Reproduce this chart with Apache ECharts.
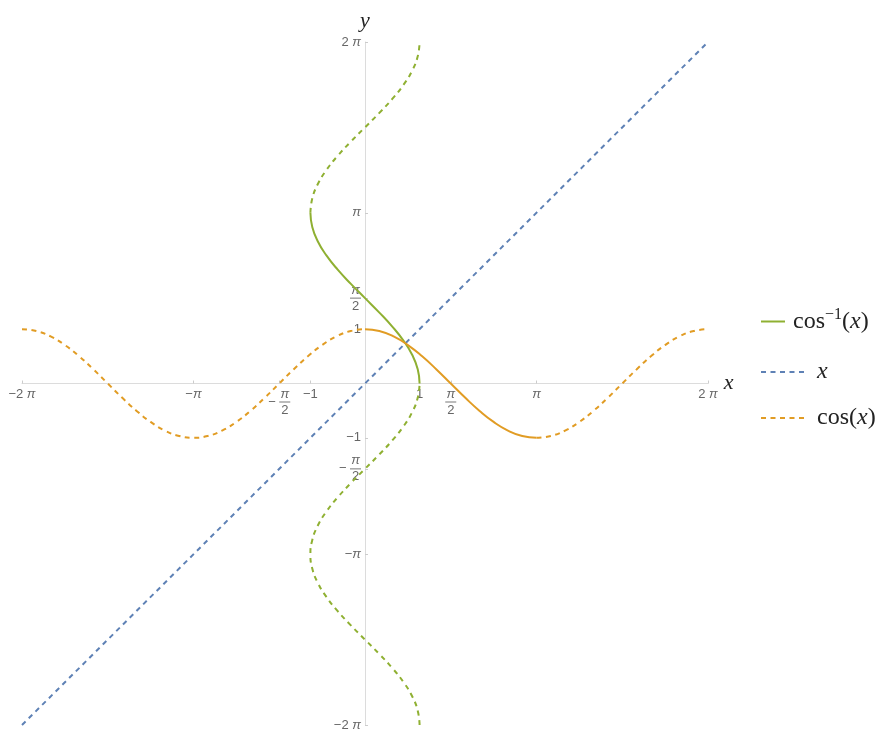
<!DOCTYPE html>
<html>
<head>
<meta charset="utf-8">
<script src="https://cdn.jsdelivr.net/npm/echarts@6/dist/echarts.min.js"></script>
<style>html,body{margin:0;padding:0;background:#fff}#c{width:878px;height:734px}</style>
</head>
<body>
<div id="c"></div>
<script>
// sample angles (radians), step pi/12 from -2pi to 2pi
var tValues = [-6.2832,-6.0214,-5.7596,-5.4978,-5.2360,-4.9742,-4.7124,-4.4506,-4.1888,-3.9270,-3.6652,-3.4034,
  -3.1416,-2.8798,-2.6180,-2.3562,-2.0944,-1.8326,-1.5708,-1.3090,-1.0472,-0.7854,-0.5236,-0.2618,
  0,0.2618,0.5236,0.7854,1.0472,1.3090,1.5708,1.8326,2.0944,2.3562,2.6180,2.8798,
  3.1416,3.4034,3.6652,3.9270,4.1888,4.4506,4.7124,4.9742,5.2360,5.4978,5.7596,6.0214,6.2832];
// cosine of each sample angle
var cosValues = [1,0.9659,0.8660,0.7071,0.5,0.2588,0,-0.2588,-0.5,-0.7071,-0.8660,-0.9659,
  -1,-0.9659,-0.8660,-0.7071,-0.5,-0.2588,0,0.2588,0.5,0.7071,0.8660,0.9659,
  1,0.9659,0.8660,0.7071,0.5,0.2588,0,-0.2588,-0.5,-0.7071,-0.8660,-0.9659,
  -1,-0.9659,-0.8660,-0.7071,-0.5,-0.2588,0,0.2588,0.5,0.7071,0.8660,0.9659,1];
// identity line endpoints
var identityX = [-6.2832, 6.2832];
var identityY = [-6.2832, 6.2832];
// principal-branch index range (t from 0 to pi)
var mainStart = 24, mainEnd = 36;

var xTickValues = [-2*Math.PI, -Math.PI, -Math.PI/2, -1, 1, Math.PI/2, Math.PI, 2*Math.PI];
var xTickLabels = ['−2 π', '−π', '−π/2', '−1', '1', 'π/2', 'π', '2 π'];
var yTickValues = [-2*Math.PI, -Math.PI, -Math.PI/2, -1, 1, Math.PI/2, Math.PI, 2*Math.PI];
var yTickLabels = ['−2 π', '−π', '−π/2', '−1', '1', 'π/2', 'π', '2 π'];

var GREEN = '#8fb032', BLUE = '#5e81b5', ORANGE = '#e19c24';
var DASH = [5, 4.5];

var GRID = {left: 22, right: 170, top: 42, bottom: 9};
var W = 878, H = 734;
var halfW = (W - GRID.left - GRID.right) / 2;
var halfH = (H - GRID.top - GRID.bottom) / 2;

function pairs(xs, ys, a, b) {
  var out = [];
  for (var i = a; i <= b; i++) out.push([xs[i], ys[i]]);
  return out;
}
var last = tValues.length - 1;

function fmtTick(values, labels) {
  return function (v) {
    for (var i = 0; i < values.length; i++) {
      if (Math.abs(values[i] - v) < 1e-6) {
        var s = labels[i];
        if (s === 'π/2') return '{n|π}\n{bar| }\n{d|2}';
        if (s === '−π/2') return '{p| }{n|π}\n{m|−}{bar| }\n{p| }{d|2}';
        var parts = s.split('π');
        var out = '';
        for (var k = 0; k < parts.length; k++) {
          if (parts[k]) out += '{t|' + parts[k] + '}';
          if (k < parts.length - 1) out += '{pi|π}';
        }
        return out;
      }
    }
    return '';
  };
}
var FS = 13;
var tickRich = {
  t: {fontSize: FS, color: '#666', fontFamily: 'Liberation Sans'},
  pi: {fontSize: FS, color: '#666', fontFamily: 'Liberation Sans', fontStyle: 'italic'},
  n: {fontSize: FS, color: '#666', width: 11, align: 'center', lineHeight: 13, fontFamily: 'Liberation Sans', fontStyle: 'italic'},
  d: {fontSize: FS, color: '#666', width: 11, align: 'center', lineHeight: 13, fontFamily: 'Liberation Sans'},
  p: {fontSize: FS, width: 11, lineHeight: 13},
  m: {fontSize: FS, color: '#666', width: 11, align: 'left', lineHeight: 3, fontFamily: 'Liberation Sans'},
  bar: {fontSize: 1, width: 11, height: 1, lineHeight: 3, backgroundColor: '#777'}
};

var legendRich = {
  a: {fontFamily: 'Liberation Serif', fontSize: 24, color: '#222'},
  i: {fontFamily: 'Liberation Serif', fontStyle: 'italic', fontSize: 24, color: '#222'},
  s: {fontFamily: 'Liberation Serif', fontSize: 16, color: '#222', padding: [0, 0, 13, 0]}
};
var legendText = {
  acos: '{a|cos}{s|−1}{a|(}{i|x}{a|)}',
  x: '{i|x}',
  cos: '{a|cos(}{i|x}{a|)}'
};

var chart = echarts.init(document.getElementById('c'));
chart.setOption({
  animation: false,
  grid: {left: GRID.left, right: GRID.right, top: GRID.top, bottom: GRID.bottom, containLabel: false, outerBoundsMode: 'none'},
  xAxis: {
    type: 'value', min: -2*Math.PI, max: 2*Math.PI, position: 'bottom', offset: -halfH,
    name: 'x', nameLocation: 'end', nameGap: 10,
    nameTextStyle: {fontFamily: 'Liberation Serif', fontStyle: 'italic', fontSize: 22, color: '#222', verticalAlign: 'middle'},
    axisLine: {onZero: false, lineStyle: {color: '#dcdcdc', width: 1}},
    axisTick: {show: true, length: 3, inside: true, customValues: xTickValues, lineStyle: {color: '#ccc'}},
    axisLabel: {customValues: xTickValues, formatter: fmtTick(xTickValues, xTickLabels), rich: tickRich, margin: 4, verticalAlign: 'top'},
    splitLine: {show: false}
  },
  yAxis: {
    type: 'value', min: -2*Math.PI, max: 2*Math.PI, position: 'left', offset: -halfW,
    name: 'y', nameLocation: 'end', nameGap: 10,
    nameTextStyle: {fontFamily: 'Liberation Serif', fontStyle: 'italic', fontSize: 22, color: '#222'},
    axisLine: {onZero: false, lineStyle: {color: '#dcdcdc', width: 1}},
    axisTick: {show: true, length: 3, inside: true, customValues: yTickValues, lineStyle: {color: '#ccc'}},
    axisLabel: {customValues: yTickValues, formatter: fmtTick(yTickValues, yTickLabels), rich: tickRich, margin: 4},
    splitLine: {show: false}
  },
  legend: [
    {
      data: ['acos'], left: 755, top: 302, orient: 'vertical',
      itemWidth: 24, itemHeight: 12,
      itemStyle: {opacity: 0},
      formatter: function (n) { return legendText[n]; },
      textStyle: {rich: legendRich, padding: [0, 0, 0, 3]}
    },
    {
      data: ['x', 'cos'], left: 755, top: 355, orient: 'vertical', itemGap: 22,
      itemWidth: 46, itemHeight: 12,
      itemStyle: {opacity: 0},
      lineStyle: {width: 2},
      formatter: function (n) { return legendText[n]; },
      textStyle: {rich: legendRich, padding: [0, 0, 0, 5]}
    }
  ],
  series: [
    {name: 'acos', type: 'line', smooth: true, showSymbol: false, symbol: 'none',
     data: pairs(cosValues, tValues, mainStart, mainEnd), lineStyle: {color: GREEN, width: 2}, itemStyle: {color: GREEN}},
    {name: 'acos', type: 'line', smooth: true, showSymbol: false, symbol: 'none',
     data: pairs(cosValues, tValues, 0, mainStart), lineStyle: {color: GREEN, width: 2, type: DASH}, itemStyle: {color: GREEN}},
    {name: 'acos', type: 'line', smooth: true, showSymbol: false, symbol: 'none',
     data: pairs(cosValues, tValues, mainEnd, last), lineStyle: {color: GREEN, width: 2, type: DASH}, itemStyle: {color: GREEN}},
    {name: 'x', type: 'line', showSymbol: false, symbol: 'none',
     data: pairs(identityX, identityY, 0, 1), lineStyle: {color: BLUE, width: 2, type: DASH}, itemStyle: {color: BLUE}},
    {name: 'cos', type: 'line', smooth: true, showSymbol: false, symbol: 'none',
     data: pairs(tValues, cosValues, 0, mainStart), lineStyle: {color: ORANGE, width: 2, type: DASH}, itemStyle: {color: ORANGE}},
    {name: 'cos', type: 'line', smooth: true, showSymbol: false, symbol: 'none',
     data: pairs(tValues, cosValues, mainStart, mainEnd), lineStyle: {color: ORANGE, width: 2}, itemStyle: {color: ORANGE}},
    {name: 'cos', type: 'line', smooth: true, showSymbol: false, symbol: 'none',
     data: pairs(tValues, cosValues, mainEnd, last), lineStyle: {color: ORANGE, width: 2, type: DASH}, itemStyle: {color: ORANGE}}
  ]
});
</script>
</body>
</html>
